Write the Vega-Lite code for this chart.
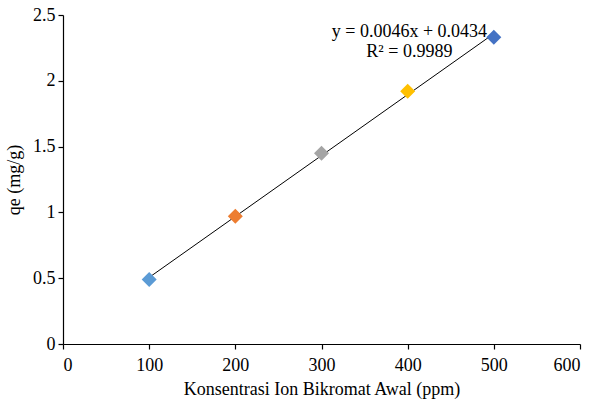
{
  "$schema": "https://vega.github.io/schema/vega-lite/v6.json",
  "width": 517,
  "height": 329,
  "autosize": {"type": "none"},
  "padding": {"left": 63, "top": 15, "right": 15, "bottom": 57},
  "background": "white",
  "config": {
    "view": {"stroke": null},
    "font": "Liberation Serif",
    "axis": {
      "grid": false,
      "domainColor": "#000000",
      "tickColor": "#000000",
      "labelColor": "#000000",
      "titleColor": "#000000",
      "labelFont": "Liberation Serif",
      "titleFont": "Liberation Serif",
      "labelFontSize": 18,
      "titleFontSize": 18,
      "titleFontWeight": "normal",
      "tickSize": 5,
      "domainWidth": 1.2,
      "tickWidth": 1.2
    }
  },
  "data": {
    "values": [
      {"c": 100, "qe": 0.49, "k": "a"},
      {"c": 200, "qe": 0.97, "k": "b"},
      {"c": 300, "qe": 1.45, "k": "c"},
      {"c": 400, "qe": 1.92, "k": "d"},
      {"c": 500, "qe": 2.33, "k": "e"}
    ]
  },
  "layer": [
    {
      "transform": [{"regression": "qe", "on": "c", "method": "linear", "extent": [100, 500]}],
      "mark": {"type": "line", "color": "#000000", "strokeWidth": 1},
      "encoding": {
        "x": {"field": "c", "type": "quantitative"},
        "y": {"field": "qe", "type": "quantitative"}
      }
    },
    {
      "mark": {"type": "point", "shape": "diamond", "filled": true, "opacity": 1, "size": 225},
      "encoding": {
        "x": {
          "field": "c", "type": "quantitative",
          "scale": {"domain": [0, 600], "nice": false, "zero": true},
          "axis": {"values": [0, 100, 200, 300, 400, 500, 600], "format": "d", "title": "Konsentrasi Ion Bikromat Awal (ppm)", "titlePadding": 6, "labelPadding": 7}
        },
        "y": {
          "field": "qe", "type": "quantitative",
          "scale": {"domain": [0, 2.5], "nice": false},
          "axis": {"values": [0, 0.5, 1, 1.5, 2, 2.5], "format": "~g", "title": "qe (mg/g)", "titlePadding": 9, "labelPadding": 3}
        },
        "color": {
          "field": "k", "type": "nominal", "legend": null,
          "scale": {"domain": ["a", "b", "c", "d", "e"], "range": ["#5B9BD5", "#ED7D31", "#A5A5A5", "#FFC000", "#4472C4"]}
        }
      }
    },
    {
      "data": {"values": [{"t": ["y = 0.0046x + 0.0434", "R² = 0.9989"]}]},
      "mark": {"type": "text", "align": "center", "baseline": "middle", "fontSize": 18, "font": "Liberation Serif", "color": "#000000", "lineHeight": 20},
      "encoding": {
        "x": {"datum": 402},
        "y": {"datum": 2.37},
        "text": {"field": "t"}
      }
    }
  ]
}
